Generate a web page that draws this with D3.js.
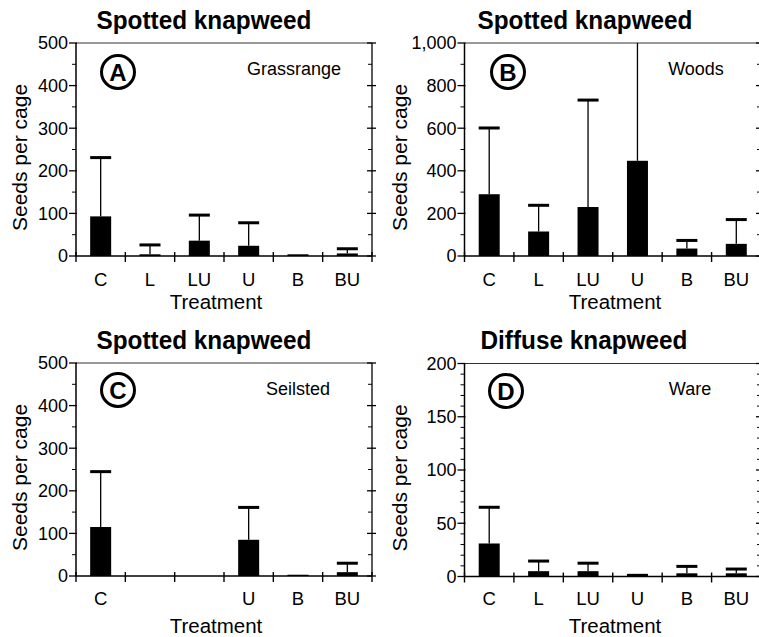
<!DOCTYPE html>
<html><head><meta charset="utf-8">
<script src="https://cdn.jsdelivr.net/npm/d3@7"></script>
<style>
body{margin:0;background:#fff;}
svg{display:block;font-family:"Liberation Sans",Arial,Helvetica,sans-serif;}
</style></head>
<body><svg id="chart" width="759" height="637"></svg>
<script>
// ---------- data ----------
const categories = ["C","L","LU","U","B","BU"];
const titles = ["Spotted knapweed","Spotted knapweed","Spotted knapweed","Diffuse knapweed"];
const letters = ["A","B","C","D"];
const sites = ["Grassrange","Woods","Seilsted","Ware"];
const yMax = [500, 1000, 500, 200];
const yMajorStep = [100, 200, 100, 50];
const yMinorStep = [50, 100, 50, 10];
// means (null = no data)
const meansA = [93, 4, 36, 24, 4, 6];
const meansB = [290, 115, 230, 447, 35, 57];
const meansC = [115, null, null, 85, 3, 9];
const meansD = [31, 5, 5, 2.5, 3, 3];
// upper end of error bar (null = none)
const errA = [231, 26, 96, 78, null, 17];
const errB = [601, 238, 732, 1200, 73, 171];
const errC = [245, null, null, 161, null, 30];
const errD = [65, 14.5, 12.5, null, 9.5, 7];

const seriesMeans = [meansA, meansB, meansC, meansD];
const seriesErr = [errA, errB, errC, errD];

// ---------- layout ----------
const panels = [
  {l:76,   r:372, t:43,  b:256, titleX:204, titleY:29,  titleW:215, treatX:216, treatY:308.5, catY:286, yTitleX:27,  circX:118, circY:72,  siteX:294, siteY:75},
  {l:464.5,r:761, t:43,  b:256, titleX:585, titleY:29,  titleW:215, treatX:615, treatY:308.5, catY:286, yTitleX:407, circX:508, circY:72,  siteX:696, siteY:75},
  {l:76,   r:372, t:363, b:576, titleX:204, titleY:349, titleW:215, treatX:216, treatY:633, catY:605, yTitleX:27,  circX:118, circY:390, siteX:298, siteY:395},
  {l:464.5,r:761, t:363.5,b:576.5,titleX:584,titleY:349,titleW:207, treatX:615, treatY:633, catY:605, yTitleX:407, circX:506, circY:391, siteX:690, siteY:395}
];

const svg = d3.select("#chart");

panels.forEach((p, i) => {
  const g = svg.append("g");
  const x = d3.scaleBand().domain(categories).range([p.l, p.r]).paddingInner(0).paddingOuter(0);
  const y = d3.scaleLinear().domain([0, yMax[i]]).range([p.b, p.t]);
  const fmt = yMax[i] >= 1000 ? d3.format(",") : d3.format("d");
  const majors = d3.range(0, yMax[i] + 1e-9, yMajorStep[i]);
  const minors = d3.range(0, yMax[i] + 1e-9, yMinorStep[i]).filter(v => majors.indexOf(v) < 0);

  // top border
  g.append("line").attr("x1", p.l).attr("x2", p.r).attr("y1", p.t).attr("y2", p.t)
    .attr("stroke", "#333").attr("stroke-width", 1);

  // left axis
  g.append("line").attr("x1", p.l).attr("x2", p.l).attr("y1", p.t).attr("y2", p.b)
    .attr("stroke", "#000").attr("stroke-width", 1.5);
  g.selectAll(null).data(majors).enter().append("line")
    .attr("x1", p.l - 7).attr("x2", p.l + 1).attr("y1", d => y(d)).attr("y2", d => y(d))
    .attr("stroke", "#000").attr("stroke-width", 1.3);
  g.selectAll(null).data(minors).enter().append("line")
    .attr("x1", p.l - 4).attr("x2", p.l).attr("y1", d => y(d)).attr("y2", d => y(d))
    .attr("stroke", "#000").attr("stroke-width", 1);
  g.selectAll(null).data(majors).enter().append("text")
    .attr("x", p.l - 8).attr("y", d => y(d)).attr("dy", "0.36em")
    .attr("text-anchor", "end").attr("font-size", 18).text(d => fmt(d));

  // right axis
  g.append("line").attr("x1", p.r).attr("x2", p.r).attr("y1", p.t).attr("y2", p.b)
    .attr("stroke", "#000").attr("stroke-width", 1.3);
  g.selectAll(null).data(majors).enter().append("line")
    .attr("x1", p.r - 5).attr("x2", p.r + 4).attr("y1", d => y(d)).attr("y2", d => y(d))
    .attr("stroke", "#000").attr("stroke-width", 1.3);
  g.selectAll(null).data(minors).enter().append("line")
    .attr("x1", p.r - 4).attr("x2", p.r).attr("y1", d => y(d)).attr("y2", d => y(d))
    .attr("stroke", "#000").attr("stroke-width", 1);

  // bottom axis
  g.append("line").attr("x1", p.l).attr("x2", p.r).attr("y1", p.b).attr("y2", p.b)
    .attr("stroke", "#000").attr("stroke-width", 1.6);
  const tickXs = categories.map(c => x(c)).concat([p.r]);
  g.selectAll(null).data(tickXs).enter().append("line")
    .attr("x1", d => d).attr("x2", d => d).attr("y1", p.b - 4).attr("y2", p.b + 6)
    .attr("stroke", "#000").attr("stroke-width", 1.4);

  const means = seriesMeans[i], errs = seriesErr[i];
  const data = categories.map((c, k) => ({c, m: means[k], e: errs[k]}));
  const bw = 21;

  // category labels (only where data exist)
  g.selectAll(null).data(data.filter(d => d.m !== null)).enter().append("text")
    .attr("x", d => x(d.c) + x.bandwidth() / 2).attr("y", p.catY)
    .attr("text-anchor", "middle").attr("font-size", 18.5).text(d => d.c);

  // error bars (upper only)
  const eb = data.filter(d => d.m !== null && d.e !== null);
  g.selectAll(null).data(eb).enter().append("line")
    .attr("x1", d => x(d.c) + x.bandwidth() / 2).attr("x2", d => x(d.c) + x.bandwidth() / 2)
    .attr("y1", d => y(d.m)).attr("y2", d => y(Math.min(d.e, yMax[i])))
    .attr("stroke", "#000").attr("stroke-width", 1.3);
  g.selectAll(null).data(eb.filter(d => d.e < yMax[i])).enter().append("line")
    .attr("x1", d => x(d.c) + x.bandwidth() / 2 - bw / 2).attr("x2", d => x(d.c) + x.bandwidth() / 2 + bw / 2)
    .attr("y1", d => y(d.e)).attr("y2", d => y(d.e))
    .attr("stroke", "#000").attr("stroke-width", 3);

  // bars
  g.selectAll(null).data(data.filter(d => d.m !== null)).enter().append("rect")
    .attr("x", d => x(d.c) + x.bandwidth() / 2 - bw / 2).attr("width", bw)
    .attr("y", d => y(d.m)).attr("height", d => p.b - y(d.m))
    .attr("fill", "#000");

  // title
  g.append("text").attr("x", p.titleX).attr("y", p.titleY).attr("text-anchor", "middle")
    .attr("font-size", 25).attr("font-weight", "bold")
    .attr("textLength", p.titleW).attr("lengthAdjust", "spacingAndGlyphs")
    .text(titles[i]);

  // x axis title
  g.append("text").attr("x", p.treatX).attr("y", p.treatY).attr("text-anchor", "middle")
    .attr("font-size", 20.5).text("Treatment");

  // y axis title
  const yc = (p.t + p.b) / 2 + 8;
  g.append("text").attr("transform", `translate(${p.yTitleX},${yc}) rotate(-90)`)
    .attr("text-anchor", "middle").attr("font-size", 21).text("Seeds per cage");

  // circled letter
  g.append("circle").attr("cx", p.circX).attr("cy", p.circY).attr("r", 16.5)
    .attr("fill", "none").attr("stroke", "#000").attr("stroke-width", 3);
  g.append("text").attr("x", p.circX).attr("y", p.circY).attr("dy", "0.36em")
    .attr("text-anchor", "middle").attr("font-size", 24).attr("font-weight", "bold")
    .text(letters[i]);

  // site label
  g.append("text").attr("x", p.siteX).attr("y", p.siteY).attr("text-anchor", "middle")
    .attr("font-size", 18).text(sites[i]);
});
</script></body></html>
